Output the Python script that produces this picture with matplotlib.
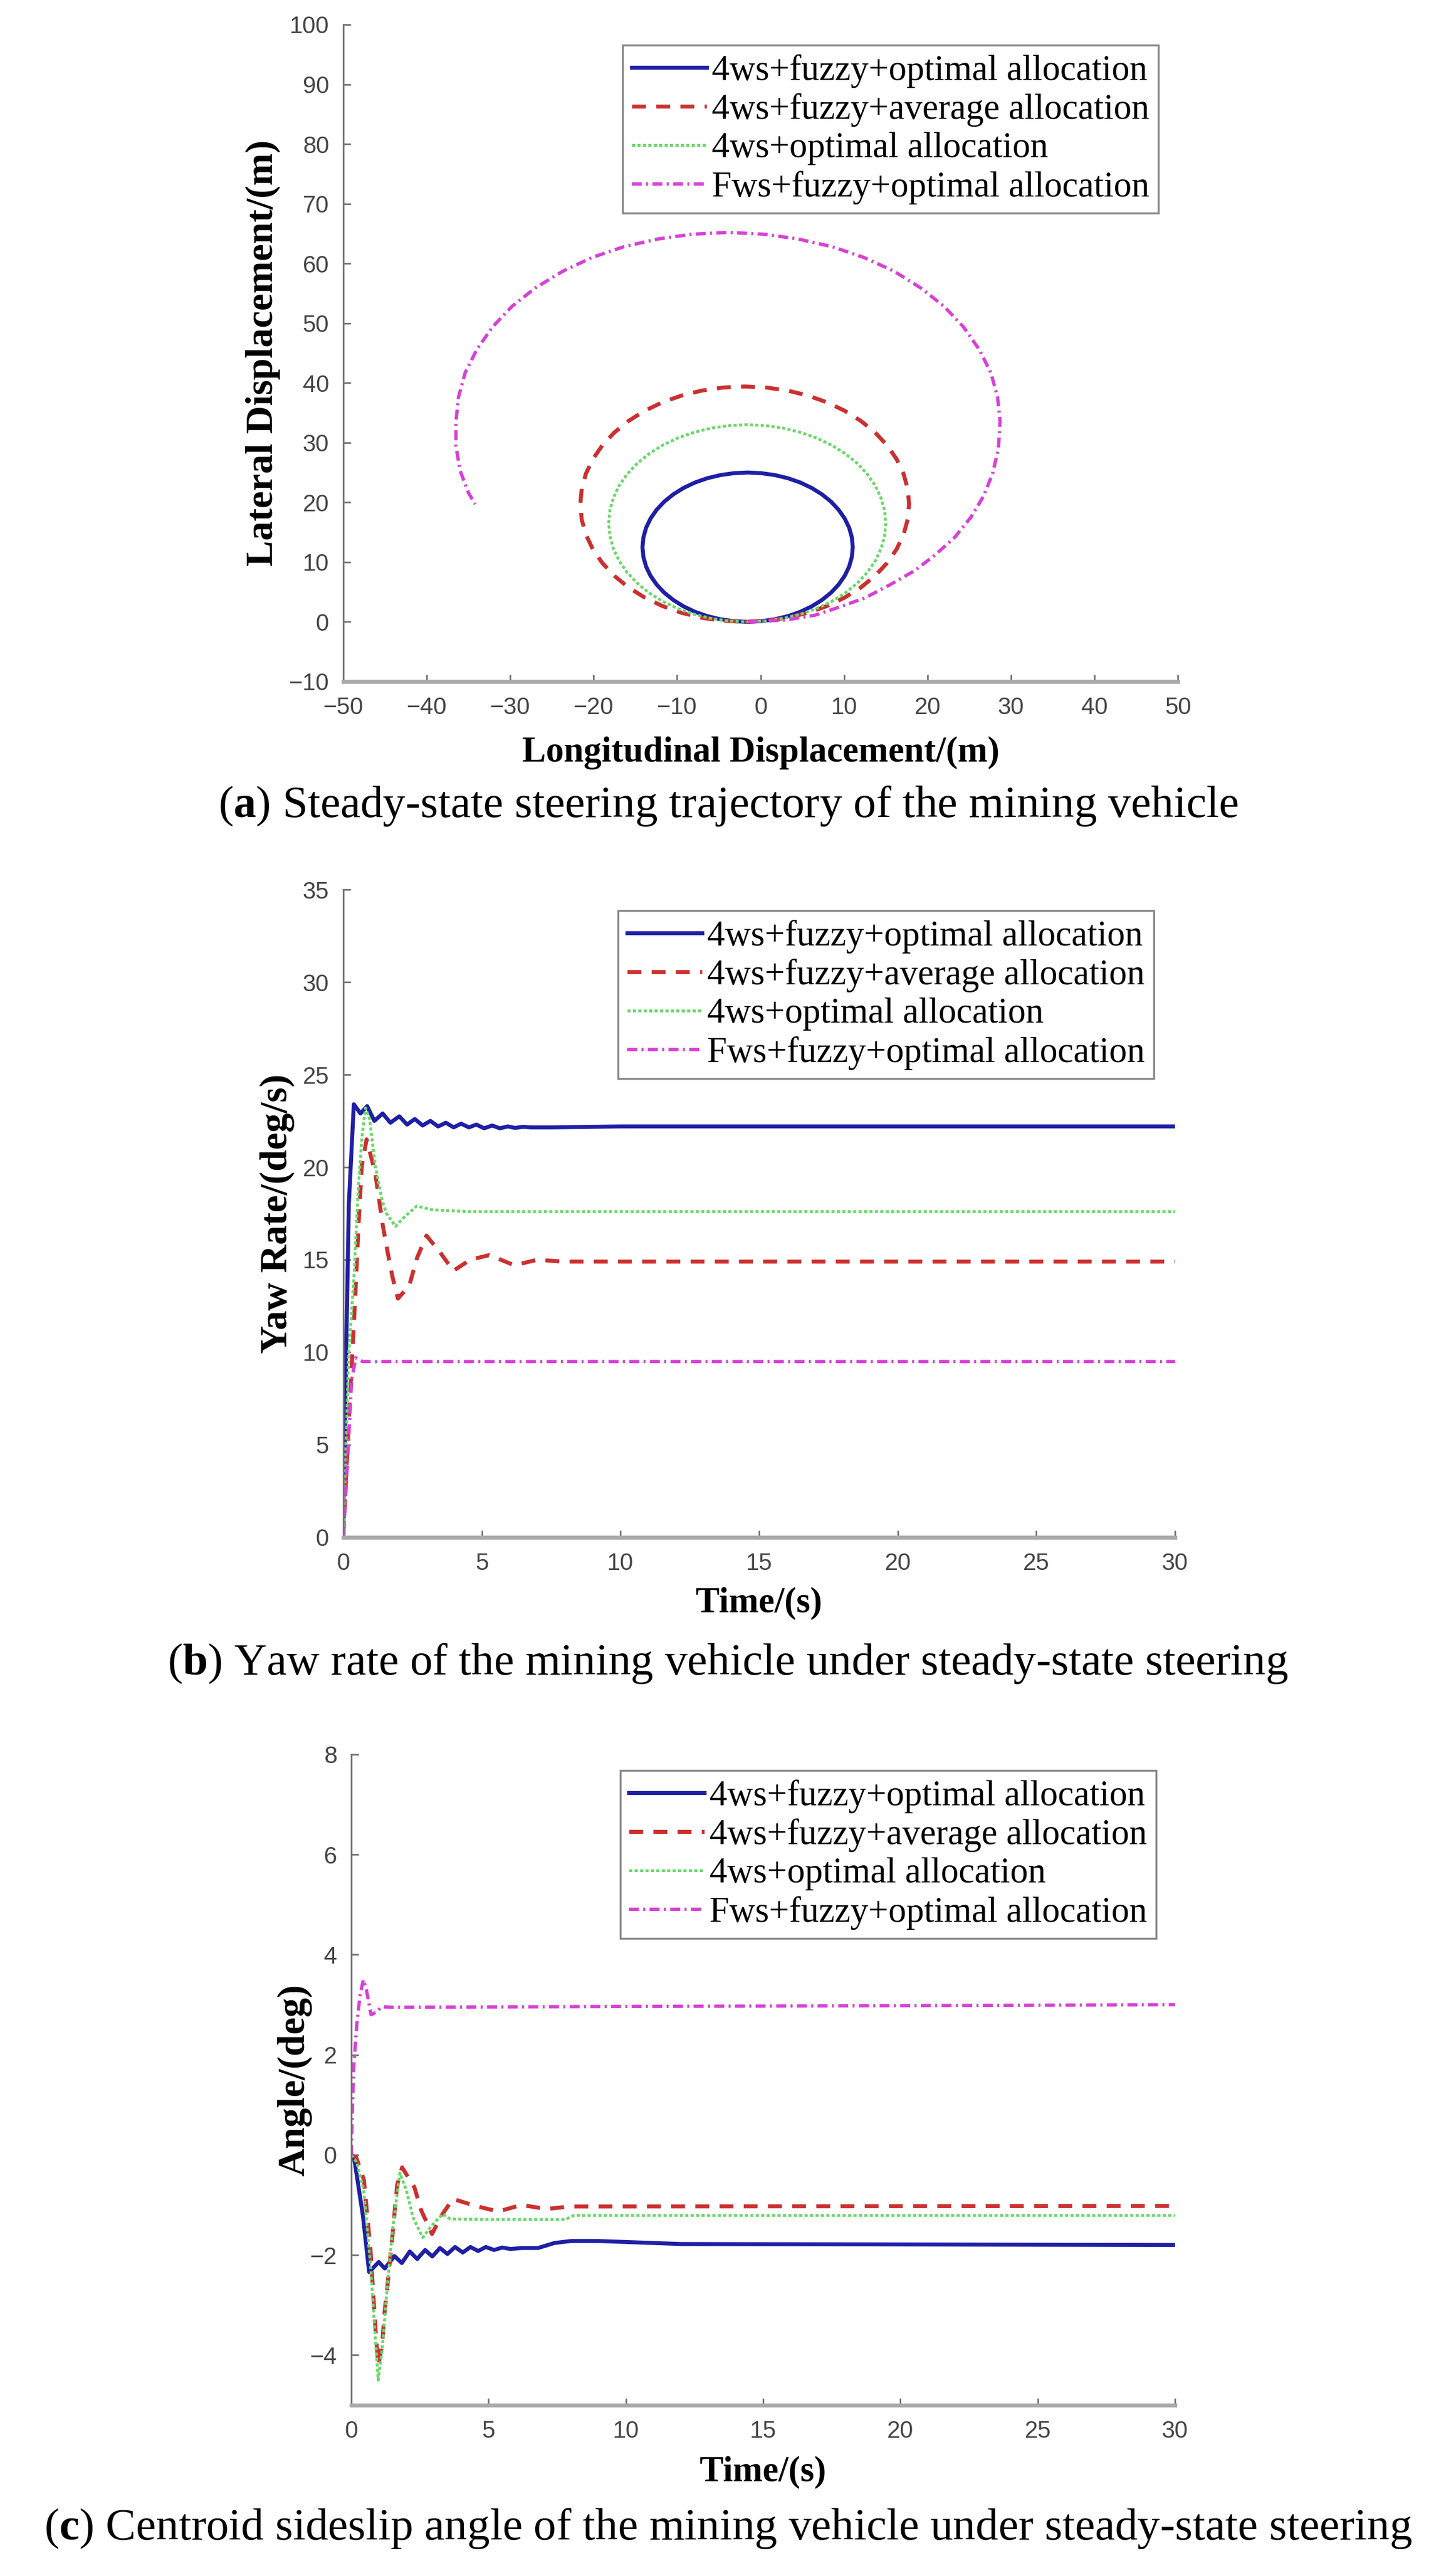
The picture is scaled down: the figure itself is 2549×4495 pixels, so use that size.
import matplotlib
matplotlib.use("Agg")
import matplotlib.pyplot as plt

plt.rcParams['font.family'] = ['Liberation Sans', 'DejaVu Sans']
plt.rcParams['mathtext.fontset'] = 'custom'
plt.rcParams['mathtext.rm'] = 'Liberation Serif'
plt.rcParams['mathtext.bf'] = 'Liberation Serif:bold'

labels = ["4ws+fuzzy+optimal allocation", "4ws+fuzzy+average allocation",
          "4ws+optimal allocation", "Fws+fuzzy+optimal allocation"]

# ---- (a) trajectory, points ----
traj_blue_x = [-1.55, 0.09, 1.71, 3.27, 4.75, 6.12, 7.36, 8.45, 9.36, 10.09, 10.62, 10.94,
               11.05, 10.94, 10.62, 10.09, 9.36, 8.45, 7.36, 6.12, 4.75, 3.27, 1.71, 0.09,
               -1.55, -3.19, -4.81, -6.37, -7.85, -9.22, -10.46, -11.55, -12.46, -13.19,
               -13.72, -14.04, -14.15, -14.04, -13.72, -13.19, -12.46, -11.55, -10.46,
               -9.22, -7.85, -6.37, -4.81, -3.19, -1.55]
traj_blue_y = [0.0, 0.11, 0.43, 0.95, 1.67, 2.58, 3.66, 4.89, 6.25, 7.72, 9.26, 10.87,
               12.5, 14.13, 15.74, 17.28, 18.75, 20.11, 21.34, 22.42, 23.33, 24.05, 24.57,
               24.89, 25.0, 24.89, 24.57, 24.05, 23.33, 22.42, 21.34, 20.11, 18.75, 17.28,
               15.74, 14.13, 12.5, 10.87, 9.26, 7.72, 6.25, 4.89, 3.66, 2.58, 1.67, 0.95,
               0.43, 0.11, 0.0]

traj_red_x = [-1.9, 0.67, 3.2, 5.64, 7.95, 10.09, 12.03, 13.73, 15.16, 16.3, 17.13, 17.63,
              17.8, 17.63, 17.13, 16.3, 15.16, 13.73, 12.03, 10.09, 7.95, 5.64, 3.2, 0.67,
              -1.9, -4.47, -7.0, -9.44, -11.75, -13.89, -15.83, -17.53, -18.96, -20.1,
              -20.93, -21.43, -21.6, -21.43, -20.93, -20.1, -18.96, -17.53, -15.83, -13.89,
              -11.75, -9.44, -7.0, -4.47, -1.9]
traj_red_y = [0.0, 0.17, 0.67, 1.5, 2.64, 4.07, 5.77, 7.71, 9.85, 12.16, 14.6, 17.13,
              19.7, 22.27, 24.8, 27.24, 29.55, 31.69, 33.63, 35.33, 36.76, 37.9, 38.73,
              39.23, 39.4, 39.23, 38.73, 37.9, 36.76, 35.33, 33.63, 31.69, 29.55, 27.24,
              24.8, 22.27, 19.7, 17.13, 14.6, 12.16, 9.85, 7.71, 5.77, 4.07, 2.64, 1.5,
              0.67, 0.17, 0.0]

traj_green_x = [-1.6, 0.57, 2.7, 4.75, 6.7, 8.51, 10.14, 11.57, 12.78, 13.74, 14.43, 14.86,
                15.0, 14.86, 14.43, 13.74, 12.78, 11.57, 10.14, 8.51, 6.7, 4.75, 2.7, 0.57,
                -1.6, -3.77, -5.9, -7.95, -9.9, -11.71, -13.34, -14.77, -15.98, -16.94,
                -17.63, -18.06, -18.2, -18.06, -17.63, -16.94, -15.98, -14.77, -13.34,
                -11.71, -9.9, -7.95, -5.9, -3.77, -1.6]
traj_green_y = [0.0, 0.14, 0.56, 1.26, 2.21, 3.41, 4.83, 6.45, 8.25, 10.19, 12.23, 14.35,
                16.5, 18.65, 20.77, 22.81, 24.75, 26.55, 28.17, 29.59, 30.79, 31.74, 32.44,
                32.86, 33.0, 32.86, 32.44, 31.74, 30.79, 29.59, 28.17, 26.55, 24.75, 22.81,
                20.77, 18.65, 16.5, 14.35, 12.23, 10.19, 8.25, 6.45, 4.83, 3.41, 2.21,
                1.26, 0.56, 0.14, 0.0]

traj_pink_x = [-1.5, 3.0, 6.5, 9.5, 12.5, 15.5, 18.5, 21.0, 23.3, 25.2, 26.7, 27.8, 28.5,
               28.7, 28.4, 27.6, 26.2, 24.3, 22.0, 19.2, 16.0, 12.4, 8.6, 4.5, 0.4, -3.9,
               -8.2, -12.3, -16.4, -20.2, -23.7, -27.0, -29.8, -32.1, -34.0, -35.4, -36.2,
               -36.5, -36.5, -36.0, -35.0, -34.2]
traj_pink_y = [0.0, 0.3, 1.1, 2.5, 4.0, 6.2, 8.6, 11.3, 14.2, 17.5, 21.0, 24.8, 29.0,
               33.5, 37.6, 41.7, 45.6, 49.4, 52.8, 55.9, 58.7, 61.0, 62.8, 64.1, 64.9, 65.2,
               64.9, 64.1, 62.8, 61.0, 58.7, 55.9, 52.8, 49.4, 45.6, 41.7, 37.6,
               33.5, 29.4, 25.3, 21.6, 19.7]

# ---- (b) yaw rate ----
yaw_blue_t = [0, 0.08, 0.2, 0.38, 0.62, 0.86, 1.12, 1.42, 1.7, 2.02, 2.3, 2.58, 2.86, 3.14,
              3.42, 3.7, 3.98, 4.25, 4.53, 4.8, 5.08, 5.37, 5.65, 5.93, 6.2, 6.48, 6.76, 7.5, 10, 30]
yaw_blue = [0, 8, 18, 23.4, 22.9, 23.3, 22.5, 22.9, 22.4, 22.75, 22.3, 22.6, 22.25, 22.5,
            22.2, 22.4, 22.15, 22.35, 22.15, 22.3, 22.1, 22.25, 22.1, 22.2, 22.12, 22.18, 22.15,
            22.15, 22.2, 22.2]

yaw_red_t = [0, 0.12, 0.22, 0.33, 0.45, 0.56, 0.67, 0.84, 1.15, 1.42, 1.6, 1.77, 1.97, 2.38,
             2.66, 3.0, 3.49, 3.97, 4.58, 5.27, 6.17, 7.0, 7.88, 30]
yaw_red = [0, 3.9, 7.0, 10.0, 13.6, 17.2, 20.1, 21.5, 19.7, 16.9, 15.4, 14.1, 12.9, 13.6,
           15.1, 16.3, 15.4, 14.4, 15.0, 15.25, 14.7, 15.0, 14.9, 14.9]

yaw_green_t = [0, 0.1, 0.19, 0.39, 0.53, 0.67, 0.8, 0.95, 1.15, 1.4, 1.56, 1.88, 2.2, 2.65,
               3.2, 4.5, 30]
yaw_green = [0, 5, 9.8, 14.2, 18.6, 21.6, 23.2, 22.6, 20.1, 18.2, 17.5, 16.8, 17.3, 17.9,
             17.7, 17.6, 17.6]

yaw_pink_t = [0, 0.15, 0.3, 0.45, 0.7, 30]
yaw_pink = [0, 4, 8.5, 9.7, 9.5, 9.5]

# ---- (c) sideslip angle ----
ang_blue_t = [0, 0.1, 0.42, 0.65, 1.0, 1.22, 1.57, 1.84, 2.13, 2.4, 2.69, 2.95, 3.23, 3.5,
              3.78, 4.06, 4.34, 4.62, 4.9, 5.2, 5.5, 5.8, 6.2, 6.8, 7.4, 8.0, 9.0, 10.5, 12, 30]
ang_blue = [0, -0.05, -1.2, -2.34, -2.14, -2.27, -2.02, -2.16, -1.93, -2.08, -1.9, -2.03,
            -1.86, -1.98, -1.84, -1.95, -1.84, -1.92, -1.84, -1.9, -1.85, -1.88, -1.86, -1.86,
            -1.76, -1.72, -1.72, -1.75, -1.78, -1.80]

ang_red_t = [0, 0.18, 0.46, 0.7, 0.87, 0.98, 1.12, 1.22, 1.32, 1.5, 1.67, 1.85, 2.3, 2.54,
             2.94, 3.3, 3.7, 4.6, 5.35, 6.2, 7.1, 8.0, 30]
ang_red = [0, -0.05, -0.5, -1.9, -3.4, -4.2, -3.8, -3.1, -2.6, -1.6, -0.6, -0.25, -0.65,
           -1.1, -1.58, -1.2, -0.88, -1.03, -1.13, -1.0, -1.08, -1.03, -1.02]

ang_green_t = [0, 0.2, 0.45, 0.7, 0.88, 0.98, 1.12, 1.3, 1.5, 1.77, 2.0, 2.25, 2.6, 2.95,
               3.33, 3.6, 5.0, 7.8, 8.1, 30]
ang_green = [0, -0.15, -0.7, -2.2, -3.7, -4.5, -3.9, -2.7, -1.5, -0.36, -0.7, -1.25, -1.65,
             -1.4, -1.18, -1.28, -1.29, -1.29, -1.21, -1.21]

ang_pink_t = [0, 0.08, 0.2, 0.32, 0.44, 0.55, 0.72, 0.9, 1.11, 1.5, 30]
ang_pink = [0, 1.7, 2.6, 3.2, 3.5, 3.3, 2.8, 2.85, 2.96, 2.95, 3.0]

captions = ["Steady-state steering trajectory of the mining vehicle",
            "Yaw rate of the mining vehicle under steady-state steering",
            "Centroid sideslip angle of the mining vehicle under steady-state steering"]

# line styles (MATLAB-ish)
styles = [
    dict(color='#1f1fa6', lw=5.0, ls='-'),
    dict(color='#cc3030', lw=5.0, dashes=(3.5, 2.6)),
    dict(color='#6ad86a', lw=3.6, dashes=(1.1, 0.8)),
    dict(color='#d840d8', lw=4.2, dashes=(3.0, 1.3, 0.6, 1.3)),
]

W, H = 2549, 4495
fig = plt.figure(figsize=(W / 100, H / 100), dpi=100)


def px_axes(l, r, t, b):
    return fig.add_axes([l / W, 1 - b / H, (r - l) / W, (b - t) / H])


def style_axes(ax):
    ax.spines['top'].set_visible(False)
    ax.spines['right'].set_visible(False)
    ax.spines['left'].set_color('#777777')
    ax.spines['left'].set_linewidth(2.2)
    ax.spines['bottom'].set_color('#aaaaaa')
    ax.spines['bottom'].set_linewidth(5)
    ax.tick_params(direction='in', length=9, width=2, color='#707070',
                   labelcolor='#454545', labelsize=30, top=False, right=False)
    ax.tick_params(axis='y', pad=18)
    ax.tick_params(axis='x', pad=19)


def add_legend(ax, anchor):
    leg = ax.legend(labels, loc='upper right', bbox_to_anchor=anchor, borderaxespad=0,
                    prop={'family': 'Liberation Serif', 'size': 45},
                    handlelength=2.1, handletextpad=0.15, borderpad=0.25,
                    labelspacing=0.15, fancybox=False, edgecolor='#888888',
                    framealpha=1)
    leg.get_frame().set_linewidth(2.5)


def set_labels(ax, xl, yl, xpos, ypos):
    ax.set_xlabel(xl, family='Liberation Serif', weight='bold', fontsize=45, va='center')
    ax.set_ylabel(yl, family='Liberation Serif', weight='bold', fontsize=49, va='center')
    ax.xaxis.set_label_coords(0.5, xpos)
    ax.yaxis.set_label_coords(ypos, 0.5)


# (a)
ax = px_axes(601, 2062, 43, 1193)
for (x, y), st in zip([(traj_blue_x, traj_blue_y), (traj_red_x, traj_red_y),
                       (traj_green_x, traj_green_y), (traj_pink_x, traj_pink_y)], styles):
    ax.plot(x, y, **st)
ax.set_xlim(-50, 50)
ax.set_ylim(-10, 100)
ax.set_xticks(range(-50, 51, 10))
ax.set_yticks(range(-10, 101, 10))
style_axes(ax)
add_legend(ax, (1 - 34 / 1461, 1 - 36 / 1150))
set_labels(ax, 'Longitudinal Displacement/(m)', 'Lateral Displacement/(m)', -0.1087, -0.0965)

# (b)
ax = px_axes(601, 2057, 1557, 2691)
for (t, y), st in zip([(yaw_blue_t, yaw_blue), (yaw_red_t, yaw_red),
                       (yaw_green_t, yaw_green), (yaw_pink_t, yaw_pink)], styles):
    ax.plot(t, y, **st)
ax.set_xlim(0, 30)
ax.set_ylim(0, 35)
ax.set_xticks(range(0, 31, 5))
ax.set_yticks(range(0, 36, 5))
style_axes(ax)
add_legend(ax, (1 - 37 / 1456, 1 - 37 / 1134))
set_labels(ax, 'Time/(s)', 'Yaw Rate/(deg/s)', -0.1014, -0.0797)

# (c)
ax = px_axes(615, 2057, 3071, 4210)
for (t, y), st in zip([(ang_blue_t, ang_blue), (ang_red_t, ang_red),
                       (ang_green_t, ang_green), (ang_pink_t, ang_pink)], styles):
    ax.plot(t, y, **st)
ax.set_xlim(0, 30)
ax.set_ylim(-5, 8)
ax.set_xticks(range(0, 31, 5))
ax.set_yticks(range(-4, 9, 2))
style_axes(ax)
add_legend(ax, (1 - 33 / 1442, 1 - 28 / 1139))
set_labels(ax, 'Time/(s)', 'Angle/(deg)', -0.1027, -0.0686)

# captions
for letter, cap, yc in zip('abc', captions, [1411, 2911, 4425]):
    fig.text(0.5, 1 - yc / H, r'($\mathbf{' + letter + r'}$) ' + cap,
             family='Liberation Serif', fontsize=57, ha='center', va='center', color='black')

fig.savefig('out.png', dpi=100, facecolor='white')
